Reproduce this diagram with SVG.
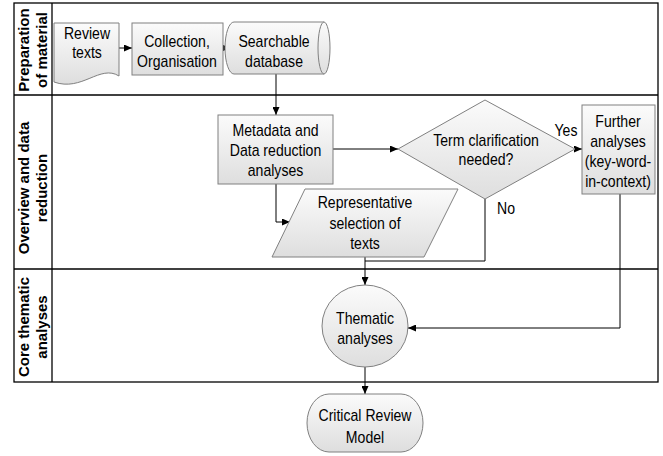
<svg xmlns="http://www.w3.org/2000/svg" width="663" height="456" viewBox="0 0 663 456">
<defs>
<linearGradient id="g" x1="0" y1="0" x2="0" y2="1">
<stop offset="0" stop-color="#fbfbfb"/>
<stop offset="1" stop-color="#dedede"/>
</linearGradient>
<marker id="arr" markerWidth="8" markerHeight="7" refX="8" refY="3.5" orient="auto" markerUnits="userSpaceOnUse">
<path d="M0,0 L8,3.5 L0,7 Z" fill="#000"/>
</marker>
<style>
.shape{fill:url(#g);stroke:#808080;stroke-width:1}
.t{font-family:"Liberation Sans",Arial,sans-serif;font-size:16px;fill:#000;text-anchor:middle}
.lane{font-family:"Liberation Sans",Arial,sans-serif;font-size:15px;font-weight:bold;fill:#000;text-anchor:middle}
.frame{fill:none;stroke:#000;stroke-width:1.3}
.c{fill:none;stroke:#000;stroke-width:1}
</style>
</defs>
<rect width="663" height="456" fill="#fff"/>
<g id="lanes">
<rect class="frame" x="14" y="3" width="644" height="379"/>
<line class="frame" x1="52" y1="3" x2="52" y2="382"/>
<line class="frame" x1="14" y1="95" x2="658" y2="95"/>
<line class="frame" x1="14" y1="269" x2="658" y2="269"/>
<text class="lane" transform="translate(29,50) rotate(-90)">Preparation</text>
<text class="lane" transform="translate(47,50) rotate(-90)">of material</text>
<text class="lane" transform="translate(29,188) rotate(-90)">Overview and data</text>
<text class="lane" transform="translate(47,188) rotate(-90)">reduction</text>
<text class="lane" transform="translate(29,327) rotate(-90)">Core thematic</text>
<text class="lane" transform="translate(47,327) rotate(-90)">analyses</text>
</g>
<g id="connectors">
<line class="c" x1="119" y1="48" x2="132" y2="48" marker-end="url(#arr)"/>
<line class="c" x1="223" y1="48" x2="230" y2="48" marker-end="url(#arr)"/>
<line class="c" x1="276" y1="74" x2="276" y2="115" marker-end="url(#arr)"/>
<polyline class="c" points="276,184 276,222 290,222" marker-end="url(#arr)"/>
<line class="c" x1="333" y1="149" x2="398" y2="149" marker-end="url(#arr)"/>
<line class="c" x1="575" y1="149" x2="582" y2="149" marker-end="url(#arr)"/>
<polyline class="c" points="485,199 485,261 365,261"/>
<line class="c" x1="365" y1="257" x2="365" y2="285" marker-end="url(#arr)"/>
<polyline class="c" points="620,194 620,328 408,328" marker-end="url(#arr)"/>
<line class="c" x1="365" y1="367" x2="365" y2="394" marker-end="url(#arr)"/>
<text class="t" transform="translate(566,0) scale(0.88,1)" y="136">Yes</text>
<text class="t" transform="translate(506,0) scale(0.88,1)" y="214">No</text>
</g>
<g id="review">
<path class="shape" d="M54,23 H119 V76 C100,64 82,92 54,82 Z"/>
<text class="t" transform="translate(87,0) scale(0.88,1)" y="39">Review</text>
<text class="t" transform="translate(87,0) scale(0.88,1)" y="58">texts</text>
</g>
<g id="collection">
<rect class="shape" x="132" y="23" width="91" height="52"/>
<text class="t" transform="translate(177,0) scale(0.88,1)" y="47">Collection,</text>
<text class="t" transform="translate(177,0) scale(0.88,1)" y="67">Organisation</text>
</g>
<g id="database">
<path class="shape" d="M234,22 H324 A6,26 0 0 1 324,74 H234 A9,26 0 0 1 234,22 Z"/>
<path class="shape" d="M324,22 A6,26 0 0 0 324,74" fill="none"/>
<text class="t" transform="translate(274,0) scale(0.88,1)" y="47">Searchable</text>
<text class="t" transform="translate(274,0) scale(0.88,1)" y="67">database</text>
</g>
<g id="metadata">
<rect class="shape" x="218" y="115" width="115" height="69"/>
<text class="t" transform="translate(275.5,0) scale(0.88,1)" y="136">Metadata and</text>
<text class="t" transform="translate(275.5,0) scale(0.88,1)" y="156">Data reduction</text>
<text class="t" transform="translate(275.5,0) scale(0.88,1)" y="176">analyses</text>
</g>
<g id="decision">
<polygon class="shape" points="398,149 485,100 575,149 485,199"/>
<text class="t" transform="translate(486,0) scale(0.88,1)" y="146">Term clarification</text>
<text class="t" transform="translate(486,0) scale(0.88,1)" y="165">needed?</text>
</g>
<g id="further">
<rect class="shape" x="582" y="105" width="73" height="89"/>
<text class="t" transform="translate(618,0) scale(0.88,1)" y="127">Further</text>
<text class="t" transform="translate(618,0) scale(0.88,1)" y="147">analyses</text>
<text class="t" transform="translate(618,0) scale(0.88,1)" y="167">(key-word-</text>
<text class="t" transform="translate(618,0) scale(0.88,1)" y="187">in-context)</text>
</g>
<g id="selection">
<polygon class="shape" points="305,189 458,189 424,257 272,257"/>
<text class="t" transform="translate(365,0) scale(0.88,1)" y="208">Representative</text>
<text class="t" transform="translate(365,0) scale(0.88,1)" y="229">selection of</text>
<text class="t" transform="translate(365,0) scale(0.88,1)" y="249">texts</text>
</g>
<g id="thematic">
<ellipse class="shape" cx="365" cy="326" rx="43" ry="41"/>
<text class="t" transform="translate(365,0) scale(0.88,1)" y="324">Thematic</text>
<text class="t" transform="translate(365,0) scale(0.88,1)" y="344">analyses</text>
</g>
<g id="model">
<rect class="shape" x="307" y="394" width="116" height="58" rx="22" ry="29"/>
<text class="t" transform="translate(365,0) scale(0.88,1)" y="421">Critical Review</text>
<text class="t" transform="translate(365,0) scale(0.88,1)" y="443">Model</text>
</g>
</svg>
